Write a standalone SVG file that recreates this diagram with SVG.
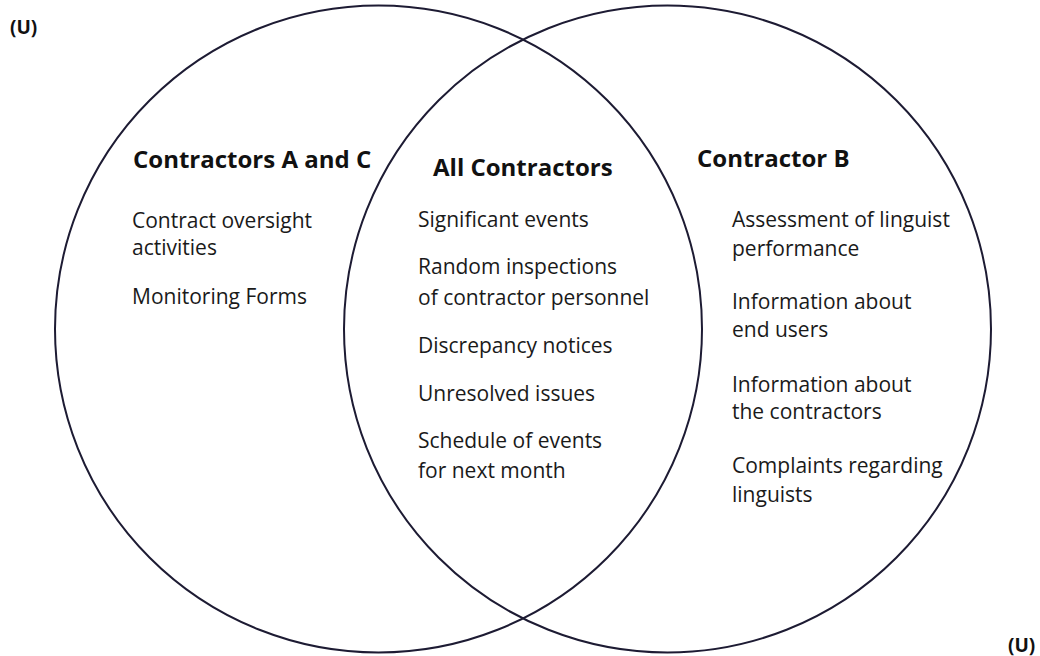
<svg xmlns="http://www.w3.org/2000/svg" width="1040" height="656" viewBox="0 0 1040 656">
  <style>
    .ring { fill: none; stroke: #1d1b33; stroke-width: 2; }
    .head { font-family: "Open Sans", Lato, sans-serif; font-weight: 700; font-size: 24px; fill: #111; }
    .item { font-family: "Open Sans", Lato, sans-serif; font-size: 21px; fill: #1a1a1a; }
    .mark { font-family: "Open Sans", Lato, sans-serif; font-weight: 700; font-size: 19px; fill: #111; }
  </style>
  <rect width="1040" height="656" fill="#ffffff"/>

  <!-- classification marks -->
  <text class="mark" x="10" y="34">(U)</text>
  <text class="mark" x="1008" y="652">(U)</text>

  <!-- the two overlapping sets -->
  <g id="connectors"/>
  <g id="set-a-c">
    <circle class="ring" cx="378.5" cy="329" r="323.5"/>
    <text class="head" x="133" y="168">Contractors A and C</text>
    <text class="item" x="132" y="228">Contract oversight</text>
    <text class="item" x="132" y="255">activities</text>
    <text class="item" x="132" y="304">Monitoring Forms</text>
  </g>
  <g id="set-b">
    <circle class="ring" cx="667.5" cy="329" r="323.5"/>
    <text class="head" x="697" y="167">Contractor B</text>
    <text class="item" x="732" y="227">Assessment of linguist</text>
    <text class="item" x="732" y="256">performance</text>
    <text class="item" x="732" y="309">Information about</text>
    <text class="item" x="732" y="337">end users</text>
    <text class="item" x="732" y="392">Information about</text>
    <text class="item" x="732" y="419">the contractors</text>
    <text class="item" x="732" y="473">Complaints regarding</text>
    <text class="item" x="732" y="502">linguists</text>
  </g>
  <g id="all-contractors">
    <text class="head" x="433" y="176">All Contractors</text>
    <text class="item" x="418" y="227">Significant events</text>
    <text class="item" x="418" y="274">Random inspections</text>
    <text class="item" x="418" y="305">of contractor personnel</text>
    <text class="item" x="418" y="353">Discrepancy notices</text>
    <text class="item" x="418" y="401">Unresolved issues</text>
    <text class="item" x="418" y="448">Schedule of events</text>
    <text class="item" x="418" y="478">for next month</text>
  </g>
</svg>
